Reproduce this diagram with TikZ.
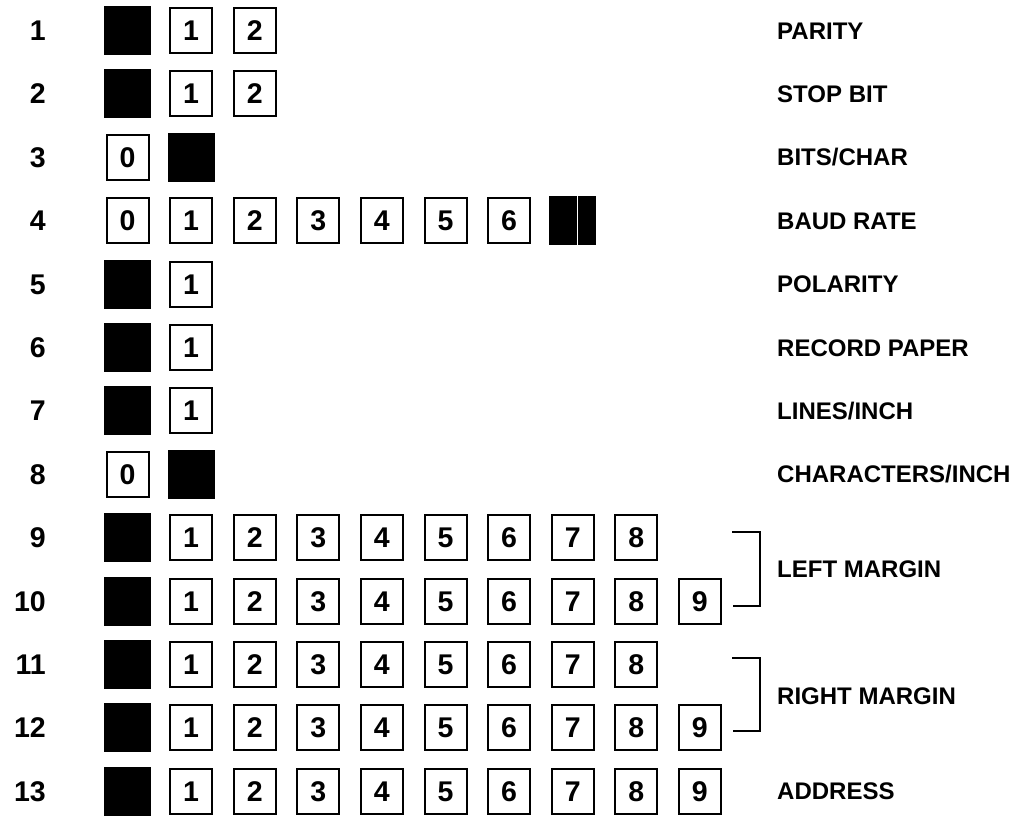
\documentclass[tikz,border=0pt]{standalone}
\usepackage{fontspec}
\setmainfont{Liberation Sans}
\newcommand{\dgfont}{\bfseries\fontsize{28.5}{30}\selectfont}
\newcommand{\lbfont}{\bfseries\fontsize{24}{26}\selectfont}
\begin{document}
\begin{tikzpicture}[x=1pt,y=-1pt,
  wbox/.style={draw, line width=2pt, minimum width=42pt, minimum height=45pt, inner sep=0pt, font=\dgfont, text height=20pt, text depth=0pt},
  bbox/.style={fill=black, minimum width=47pt, minimum height=49pt, inner sep=0pt},
  rownum/.style={anchor=base east, font=\dgfont, inner sep=0pt},
  lab/.style={anchor=base west, font=\lbfont, inner sep=0pt},
  brk/.style={line width=2pt}]
\useasboundingbox (0,0) rectangle (1023,815);
% row numbers
\foreach \r/\y in {1/30.5,2/93.9,3/157.3,4/220.7,5/284.1,6/347.5,7/410.9,8/474.3,9/537.7,10/601.1,11/664.5,12/727.9,13/791.3}
  \node[rownum] (n\r) at (46,\y+10) {\r};
% rows with black box first then digits 1..n
\foreach \r/\y/\n in {1/30.5/2,2/93.9/2,5/284.1/1,6/347.5/1,7/410.9/1,9/537.7/8,10/601.1/9,11/664.5/8,12/727.9/9,13/791.3/9}{
  \node[bbox] (b\r-0) at (127.5,\y) {};
  \foreach \k in {1,...,\n}
    \node[wbox] (b\r-\k) at (127.5+63.6*\k,\y) {\k};
}
% rows 3 and 8
\foreach \r/\y in {3/157.3,8/474.3}{
  \node[wbox] (b\r-0) at (127.5,\y) {0};
  \node[bbox] (b\r-1) at (191.1,\y) {};
}
% row 4
\foreach \k in {0,...,6}
  \node[wbox] (b4-\k) at (127.5+63.6*\k,220.7) {\k};
\node[bbox] (b4-7) at (572.7,220.7) {};
\draw[white, line width=1pt] ([xshift=5pt]b4-7.north) -- ([xshift=5pt]b4-7.south);
% labels
\node[lab] (l1) at (777,39) {PARITY};
\node[lab] (l2) at (777,102.4) {STOP BIT};
\node[lab] (l3) at (777,165.8) {BITS/CHAR};
\node[lab] (l4) at (777,229.2) {BAUD RATE};
\node[lab] (l5) at (777,292.6) {POLARITY};
\node[lab] (l6) at (777,356) {RECORD PAPER};
\node[lab] (l7) at (777,419.4) {LINES/INCH};
\node[lab] (l8) at (777,482.8) {CHARACTERS/INCH};
\node[lab] (l9) at (777,577.9) {LEFT MARGIN};
\node[lab] (l11) at (777,704.5) {RIGHT MARGIN};
\node[lab] (l13) at (777,799.8) {ADDRESS};
% brackets
\coordinate (lmA) at (732,532);
\coordinate (lmB) at (733,606);
\coordinate (rmA) at (732,658);
\coordinate (rmB) at (733,731);
\draw[brk] (lmA) -- ++(28,0) |- (lmB);
\draw[brk] (rmA) -- ++(28,0) |- (rmB);
\end{tikzpicture}
\end{document}
